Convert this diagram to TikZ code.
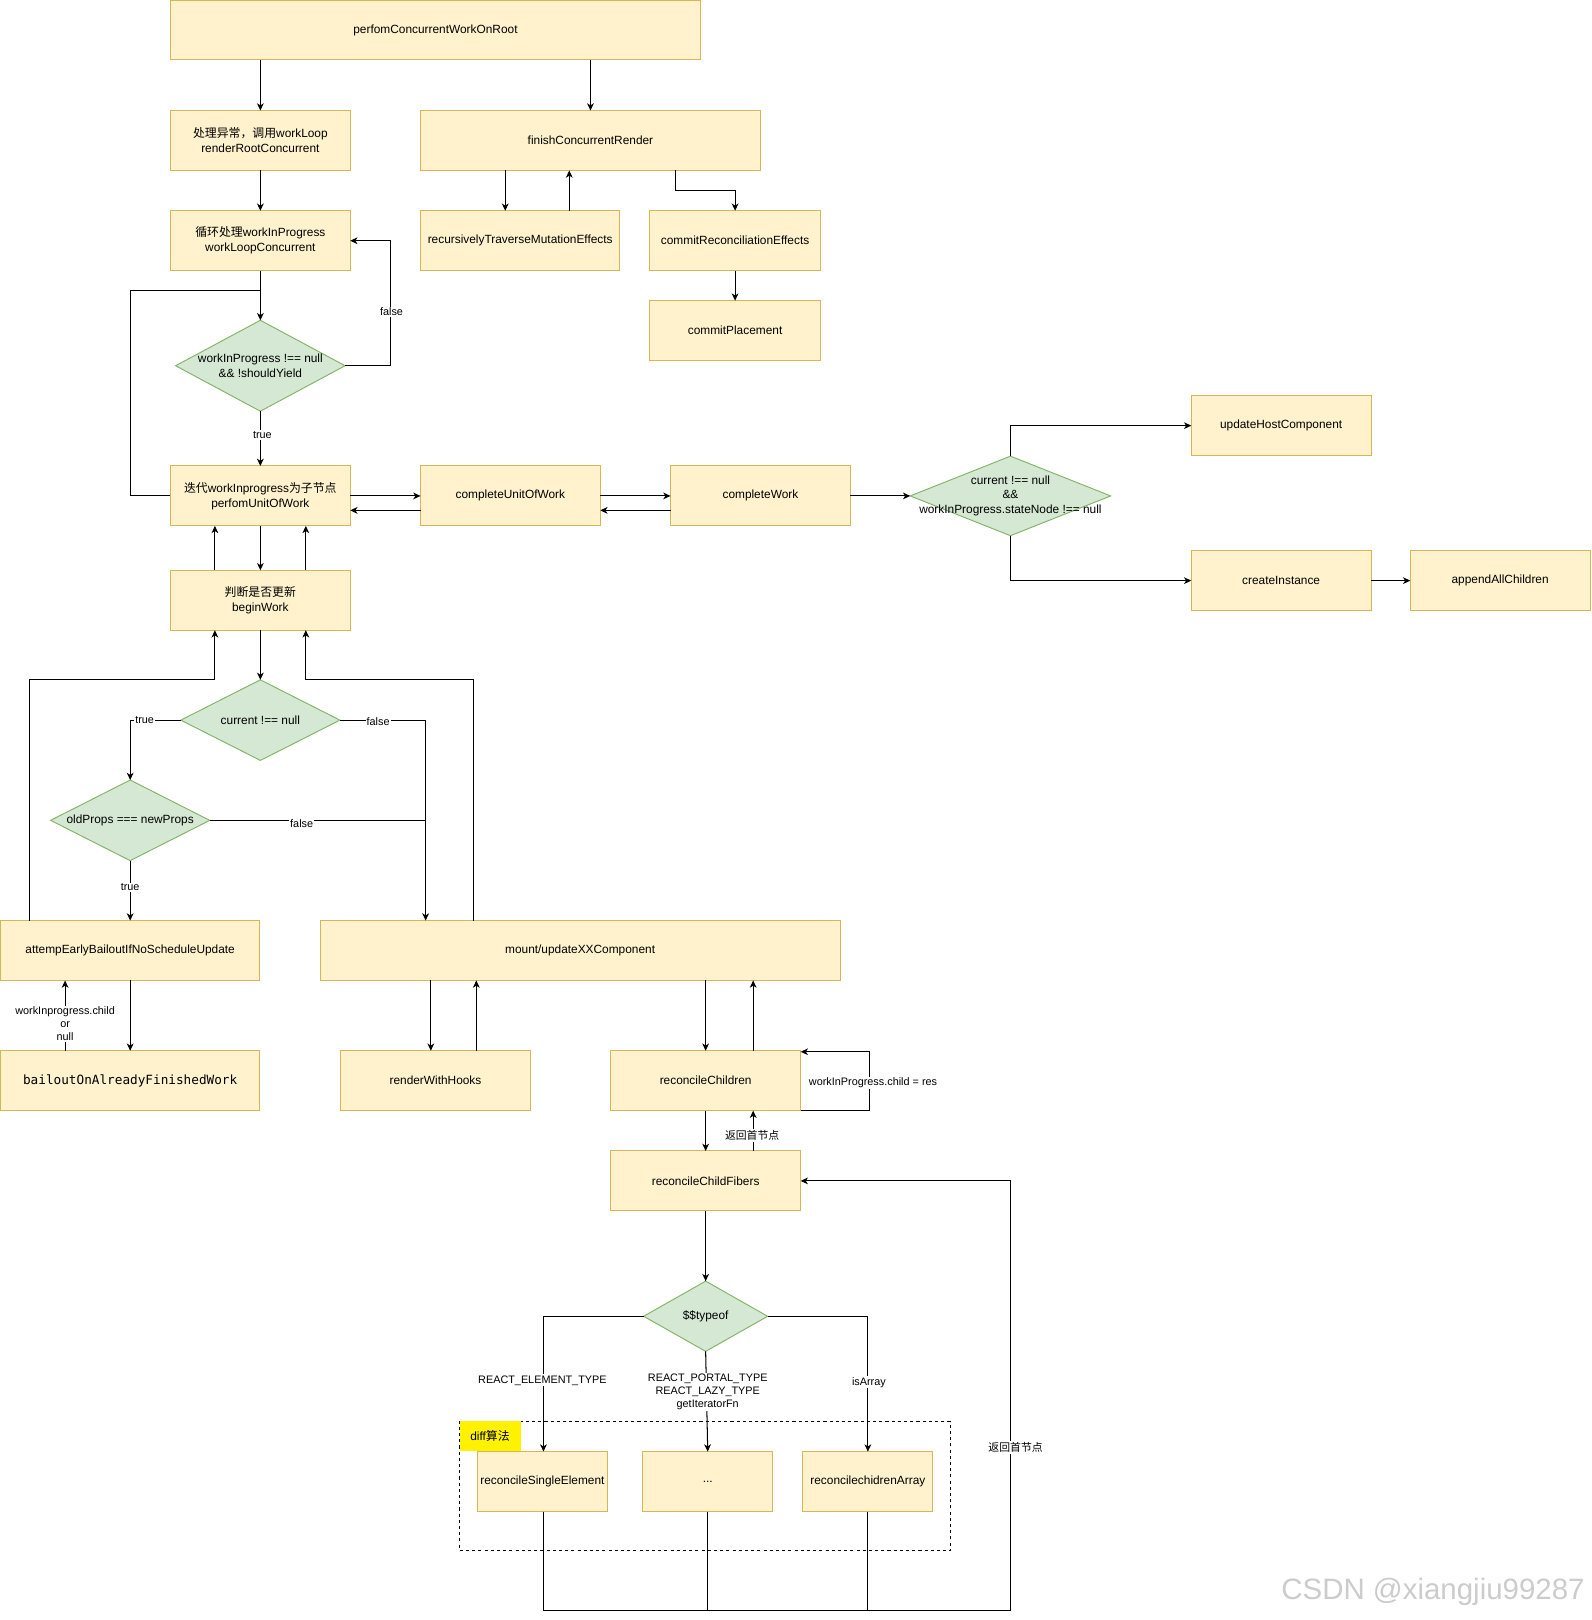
\documentclass[tikz,border=0pt]{standalone}
\usepackage{fontspec}
\setmainfont{Liberation Sans}
\newfontfamily\cjk{Noto Sans CJK SC}
\newfontfamily\monof{DejaVu Sans Mono}
\usetikzlibrary{shapes.geometric,arrows.meta}
\definecolor{boxfill}{HTML}{FFF2CC}
\definecolor{boxdraw}{HTML}{D6B656}
\definecolor{diafill}{HTML}{D5E8D4}
\definecolor{diadraw}{HTML}{82B366}
\begin{document}
\begin{tikzpicture}[x=1pt,y=-1pt,
  box/.style={draw=boxdraw, fill=boxfill, line width=0.9pt, inner sep=0pt, outer sep=0pt,
    font=\fontsize{11.5}{14.5}\selectfont, align=center, minimum width=174pt, minimum height=58pt},
  dia/.style={diamond, draw=diadraw, fill=diafill, line width=0.9pt, inner sep=0pt, outer sep=0pt},
  diatext/.style={font=\fontsize{11.5}{14}\selectfont, align=center, inner sep=0pt},
  arr/.style={line width=1pt, -{Stealth[length=7pt,width=6.5pt,inset=2pt]}},
  ln/.style={line width=1pt},
  lbl/.style={fill=white, inner sep=1pt, font=\fontsize{10.5}{13}\selectfont, align=center}]
\useasboundingbox (0,0) rectangle (1540,1568);
\fill[white] (0,0) rectangle (1540,1568);

% group container
\node[draw, dashed, line width=0.8pt, minimum width=475pt, minimum height=125pt, inner sep=0pt] (grp) at (682.5,1438.5) {};
\node[fill=yellow, minimum width=59pt, minimum height=29pt, inner sep=0pt, anchor=north west,
  font=\fontsize{11.5}{14}\selectfont] (diff) at (grp.north west) {diff{\cjk 算法}};

% boxes
\node[box, minimum width=513pt] (root) at (421.5,29) {perfomConcurrentWorkOnRoot};
\node[box] (rr) at (252,136) {{\cjk 处理异常，调用}workLoop\\renderRootConcurrent};
\node[box, minimum width=329pt] (fin) at (571.5,136) {finishConcurrentRender};
\node[box, minimum width=193pt] (rec) at (503.5,233) {recursivelyTraverseMutationEffects};
\node[box, minimum width=165pt] (cre) at (711.5,233) {commitReconciliationEffects};
\node[box, minimum width=165pt] (cpl) at (711.5,320) {commitPlacement};
\node[box] (wlc) at (252,233) {{\cjk 循环处理}workInProgress\\workLoopConcurrent};
\node[dia, minimum width=164pt, minimum height=88pt] (d1) at (252,354) {};
\node[diatext] at (d1) {workInProgress !== null\\\&\& !shouldYield};
\node[box] (puw) at (252,480) {{\cjk 迭代}workInprogress{\cjk 为子节点}\\perfomUnitOfWork};
\node[box] (cuw) at (494,480) {completeUnitOfWork};
\node[box] (cw) at (736,480) {completeWork};
\node[dia, minimum width=194pt, minimum height=77pt] (d2) at (978,480) {};
\node[diatext] at (d2) {current !== null\\\&\&\\workInProgress.stateNode !== null};
\node[box] (uhc) at (1240,412) {updateHostComponent};
\node[box] (ci) at (1240,562) {createInstance};
\node[box] (aac) at (1452,562) {appendAllChildren};
\node[box] (bw) at (252,581) {{\cjk 判断是否更新}\\beginWork};
\node[dia, minimum width=154pt, minimum height=78pt] (d3) at (252,697) {};
\node[diatext] at (d3) {current !== null};
\node[dia, minimum width=154pt, minimum height=78pt] (d4) at (126,794) {};
\node[diatext] at (d4) {oldProps === newProps};
\node[box, minimum width=251pt] (att) at (126,920) {attempEarlyBailoutIfNoScheduleUpdate};
\node[box, minimum width=251pt, font=\monof\fontsize{12.3}{14}\selectfont] (bo) at (126,1046) {bailoutOnAlreadyFinishedWork};
\node[box, minimum width=503pt] (mu) at (561.5,920) {mount/updateXXComponent};
\node[box, minimum width=183pt] (rwh) at (421.5,1046) {renderWithHooks};
\node[box, minimum width=184pt] (rc) at (683,1046) {reconcileChildren};
\node[box, minimum width=184pt] (rcf) at (683,1143) {reconcileChildFibers};
\node[dia, minimum width=120pt, minimum height=68pt] (d5) at (683,1274) {};
\node[diatext] at (d5) {\$\$typeof};
\node[box, minimum width=126pt] (rse) at (525,1434) {reconcileSingleElement};
\node[box, minimum width=126pt] (dots) at (685,1434) {...};
\node[box, minimum width=126pt] (rca) at (840,1434) {reconcilechidrenArray};

\coordinate (j1) at (252,281);
\coordinate (j2) at (412,794);
\coordinate (j3) at (978,1559);

% connectors
\draw[arr] (root.south -| rr) -- (rr.north);
\draw[arr] (root.south -| fin) -- (fin.north);
\draw[arr] (rr.south) -- (wlc.north);
\draw[arr] ([xshift=-82.5]fin.south) -- ([xshift=-14.5]rec.north);
\draw[arr] ([xshift=47.5]rec.north) -- ([xshift=-20.5]fin.south);
\draw[arr] ([xshift=82.5]fin.south) -- ++(0,19) -| (cre.north);
\draw[arr] (cre.south) -- (cpl.north);
\draw[arr] (wlc.south) -- (d1.north);
\draw[ln] (puw.west) -- ++(-39,0) |- (j1);
\draw[arr] (d1.east) -- ++(44,0) |- (wlc.east);
\draw[arr] (d1.south) -- (puw.north);
\draw[arr] (puw.east) -- (cuw.west);
\draw[arr] ([yshift=-14]cuw.west) -- ([yshift=-14]puw.east);
\draw[arr] (cuw.east) -- (cw.west);
\draw[arr] ([yshift=-14]cw.west) -- ([yshift=-14]cuw.east);
\draw[arr] (cw.east) -- (d2.west);
\draw[arr] (d2.north) |- (uhc.west);
\draw[arr] (d2.south) |- (ci.west);
\draw[arr] (ci.east) -- (aac.west);
\draw[arr] (puw.south) -- (bw.north);
\draw[arr] ([xshift=-44]bw.north) -- ([xshift=-44]puw.south);
\draw[arr] ([xshift=44]bw.north) -- ([xshift=44]puw.south);
\draw[arr] (bw.south) -- (d3.north);
\draw[arr] (d3.west) -| (d4.north);
\draw[arr] (d3.east) -| ([xshift=-149.5]mu.north);
\draw[ln] (d4.east) -- (j2);
\draw[arr] (d4.south) -- (att.north);
\draw[arr] ([xshift=-97]att.north) -- ++(0,-233) -| ([xshift=-44]bw.south);
\draw[arr] ([xshift=-103.5]mu.north) -- ++(0,-233) -| ([xshift=44]bw.south);
\draw[arr] (att.south) -- (bo.north);
\draw[arr] ([xshift=-63]bo.north) -- ([xshift=-63]att.south);
\draw[arr] ([xshift=-144.5]mu.south) -- ([xshift=-4.5]rwh.north);
\draw[arr] ([xshift=39.5]rwh.north) -- ([xshift=-100.5]mu.south);
\draw[arr] ([xshift=121.5]mu.south) -- (rc.north);
\draw[arr] ([xshift=46]rc.north) -- ([xshift=167.5]mu.south);
\draw[arr] (rc.south east) -- ++(67,0) |- ([yshift=-1]rc.north east);
\draw[arr] (rc.south) -- (rcf.north);
\draw[arr] ([xshift=46]rcf.north) -- ([xshift=46]rc.south);
\draw[arr] (rcf.south) -- (d5.north);
\draw[arr] (d5.west) -| ([xshift=1]rse.north);
\draw[arr] (d5.south) -- (dots.north);
\draw[arr] (d5.east) -| (rca.north);
\draw[arr] ([xshift=1]rse.south) |- (j3) |- (rcf.east);
\draw[ln] (dots.south) -- (dots.south |- j3);
\draw[ln] (rca.south) -- (rca.south |- j3);

% labels
\node[lbl] at (379,302) {false};
\node[lbl] at (254,421) {true};
\node[lbl] at (140,697) {true};
\node[lbl] at (366,698) {false};
\node[lbl] at (292,797) {false};
\node[lbl] at (126,859) {true};
\node[lbl, font=\fontsize{10.5}{12.5}\selectfont] at (63,991) {workInprogress.child\\or\\null};
\node[lbl] at (845,1048) {workInProgress.child = res};
\node[lbl, font=\cjk\fontsize{10.5}{13}\selectfont] at (728,1099) {返回首节点};
\node[lbl] at (525,1336) {REACT\_ELEMENT\_TYPE};
\node[lbl, font=\fontsize{10.5}{12.5}\selectfont] at (685,1347) {REACT\_PORTAL\_TYPE\\REACT\_LAZY\_TYPE\\getIteratorFn};
\node[lbl] at (841,1338) {isArray};
\node[lbl, font=\cjk\fontsize{10.5}{13}\selectfont] at (983,1401) {返回首节点};

\node[font=\fontsize{28.5}{30}\selectfont, text=gray!40, inner sep=0pt] (wm) at (1387,1541) {CSDN @xiangjiu99287};
\end{tikzpicture}
\end{document}
